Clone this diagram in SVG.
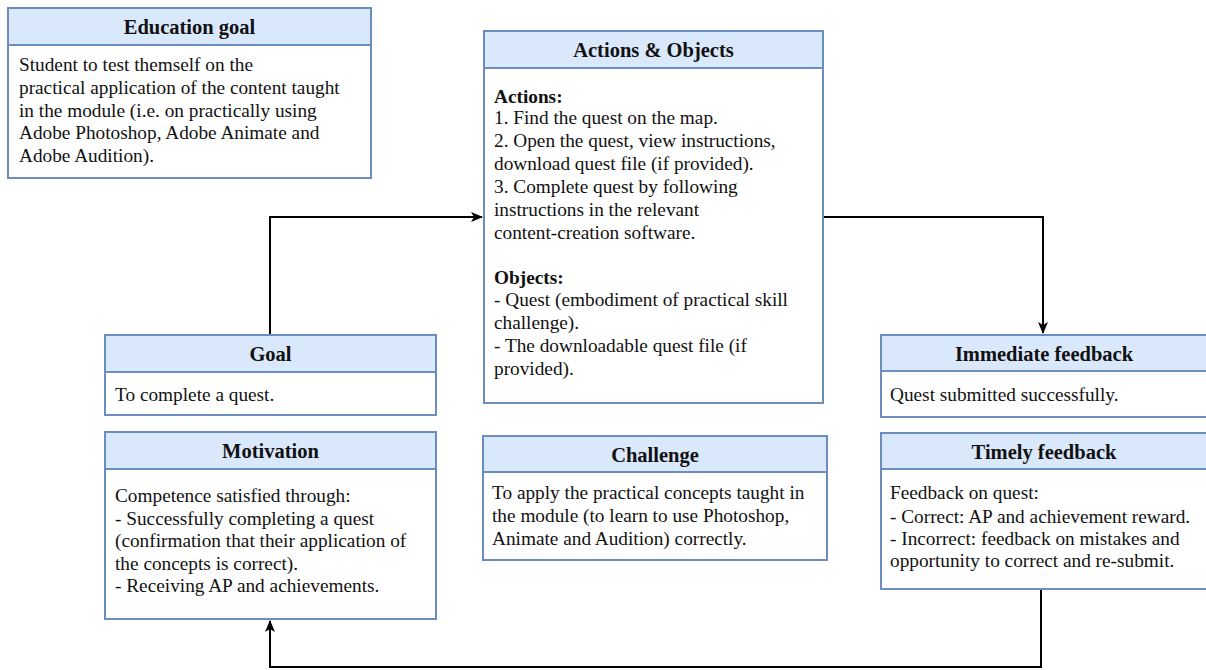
<svg xmlns="http://www.w3.org/2000/svg" width="1206" height="670" viewBox="0 0 1206 670">
  <style>
    .box { fill: #ffffff; stroke: #6c8ebf; stroke-width: 2; }
    .hdr { fill: #dae8fc; stroke: #6c8ebf; stroke-width: 2; }
    .title { font-family: "Liberation Serif", "Times New Roman", serif; font-size: 20.5px; font-weight: bold; fill: #111; text-anchor: middle; }
    .body { font-family: "Liberation Serif", "Times New Roman", serif; font-size: 19.3px; fill: #111; }
    .b { font-weight: bold; }
    .edge { fill: none; stroke: #000; stroke-width: 2; }
  </style>
  <defs>
    <marker id="arrow" viewBox="0 0 12 12" refX="11" refY="6" markerWidth="12" markerHeight="12" markerUnits="userSpaceOnUse" orient="auto">
      <path d="M0,1 L12,6 L0,11 L3,6 Z" fill="#000"/>
    </marker>
  </defs>
  <rect width="1206" height="670" fill="#ffffff"/>

  <g id="connectors">
    <polyline class="edge" points="270,335 270,217 482,217" marker-end="url(#arrow)"/>
    <polyline class="edge" points="823,217 1043,217 1043,333" marker-end="url(#arrow)"/>
    <polyline class="edge" points="1041,589 1041,667 270,667 270,621" marker-end="url(#arrow)"/>
  </g>

  <g id="education-goal">
    <rect class="box" x="8" y="8" width="363" height="170"/>
    <rect class="hdr" x="8" y="8" width="363" height="37"/>
    <text class="title" x="189.5" y="34">Education goal</text>
    <text class="body" x="19">
      <tspan x="19" y="71">Student to test themself on the</tspan>
      <tspan x="19" y="94">practical application of the content taught</tspan>
      <tspan x="19" y="117">in the module (i.e. on practically using</tspan>
      <tspan x="19" y="139">Adobe Photoshop, Adobe Animate and</tspan>
      <tspan x="19" y="162">Adobe Audition).</tspan>
    </text>
  </g>

  <g id="actions-objects">
    <rect class="box" x="484" y="31" width="339" height="372"/>
    <rect class="hdr" x="484" y="31" width="339" height="37"/>
    <text class="title" x="653.5" y="57">Actions &amp; Objects</text>
    <text class="body">
      <tspan x="494" y="103" class="b">Actions:</tspan>
      <tspan x="494" y="124">1. Find the quest on the map.</tspan>
      <tspan x="494" y="147">2. Open the quest, view instructions,</tspan>
      <tspan x="494" y="170">download quest file (if provided).</tspan>
      <tspan x="494" y="193">3. Complete quest by following</tspan>
      <tspan x="494" y="216">instructions in the relevant</tspan>
      <tspan x="494" y="239">content-creation software.</tspan>
      <tspan x="494" y="284" class="b">Objects:</tspan>
      <tspan x="494" y="306">- Quest (embodiment of practical skill</tspan>
      <tspan x="494" y="329">challenge).</tspan>
      <tspan x="494" y="352">- The downloadable quest file (if</tspan>
      <tspan x="494" y="375">provided).</tspan>
    </text>
  </g>

  <g id="goal">
    <rect class="box" x="105" y="335" width="331" height="80"/>
    <rect class="hdr" x="105" y="335" width="331" height="37"/>
    <text class="title" x="270.5" y="361">Goal</text>
    <text class="body" x="115" y="401">To complete a quest.</text>
  </g>

  <g id="motivation">
    <rect class="box" x="105" y="432" width="331" height="187"/>
    <rect class="hdr" x="105" y="432" width="331" height="37"/>
    <text class="title" x="270.5" y="458">Motivation</text>
    <text class="body">
      <tspan x="115" y="502">Competence satisfied through:</tspan>
      <tspan x="115" y="525">- Successfully completing a quest</tspan>
      <tspan x="115" y="547">(confirmation that their application of</tspan>
      <tspan x="115" y="570">the concepts is correct).</tspan>
      <tspan x="115" y="592">- Receiving AP and achievements.</tspan>
    </text>
  </g>

  <g id="challenge">
    <rect class="box" x="483" y="436" width="344" height="124"/>
    <rect class="hdr" x="483" y="436" width="344" height="36"/>
    <text class="title" x="655" y="462">Challenge</text>
    <text class="body">
      <tspan x="492" y="499">To apply the practical concepts taught in</tspan>
      <tspan x="492" y="522">the module (to learn to use Photoshop,</tspan>
      <tspan x="492" y="545">Animate and Audition) correctly.</tspan>
    </text>
  </g>

  <g id="immediate-feedback">
    <rect class="box" x="881" y="335" width="330" height="82"/>
    <rect class="hdr" x="881" y="335" width="330" height="36"/>
    <text class="title" x="1044" y="361">Immediate feedback</text>
    <text class="body" x="890" y="401">Quest submitted successfully.</text>
  </g>

  <g id="timely-feedback">
    <rect class="box" x="881" y="433" width="330" height="156"/>
    <rect class="hdr" x="881" y="433" width="330" height="36"/>
    <text class="title" x="1044" y="459">Timely feedback</text>
    <text class="body">
      <tspan x="890" y="499">Feedback on quest:</tspan>
      <tspan x="890" y="523">- Correct: AP and achievement reward.</tspan>
      <tspan x="890" y="545">- Incorrect: feedback on mistakes and</tspan>
      <tspan x="890" y="567">opportunity to correct and re-submit.</tspan>
    </text>
  </g>
</svg>
